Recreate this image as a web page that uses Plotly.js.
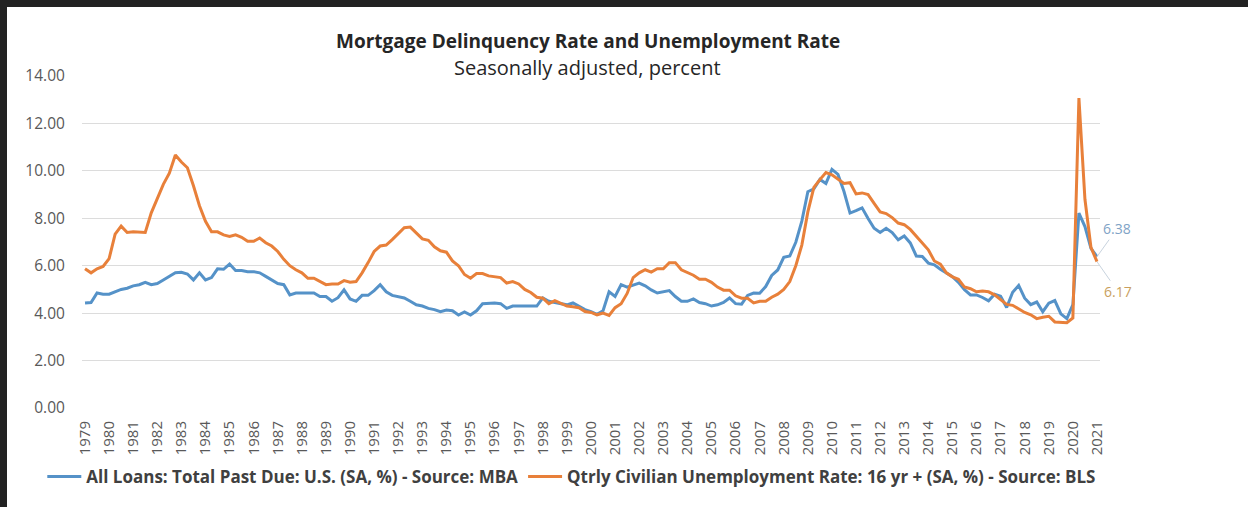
<!DOCTYPE html>
<html>
<head>
<meta charset="utf-8">
<script src="https://cdn.plot.ly/plotly-3.0.1.min.js"></script>
<style>
  html, body { margin: 0; padding: 0; background: #222222; width: 1248px; height: 507px; overflow: hidden; }
  #chart { position: absolute; left: 7px; top: 7px; width: 1241px; height: 500px; background: #ffffff; }
</style>
</head>
<body>
<div id="chart"></div>
<script>
// Years shown on the category axis (one tick per Q1)
const years = [1979,1980,1981,1982,1983,1984,1985,1986,1987,1988,1989,1990,1991,1992,1993,1994,1995,1996,1997,1998,1999,2000,2001,2002,2003,2004,2005,2006,2007,2008,2009,2010,2011,2012,2013,2014,2015,2016,2017,2018,2019,2020,2021];

// All Loans: Total Past Due: U.S. (SA, %) - Source: MBA  (quarterly, 1979Q1..2021Q1)
const mbaDelinquency = [
  4.43,4.45,4.85,4.80,  4.80,4.90,5.00,5.05,  5.15,5.20,5.30,5.20,  5.25,5.40,5.55,5.70,
  5.72,5.65,5.40,5.70,  5.40,5.50,5.87,5.85,  6.07,5.80,5.80,5.75,  5.75,5.70,5.55,5.40,
  5.25,5.20,4.77,4.85,  4.85,4.87,4.85,4.70,  4.70,4.50,4.65,4.98,  4.60,4.50,4.75,4.75,
  4.95,5.20,4.90,4.75,  4.70,4.64,4.50,4.35,  4.30,4.20,4.15,4.06,  4.13,4.10,3.92,4.05,
  3.92,4.10,4.40,4.43,  4.43,4.40,4.20,4.30,  4.30,4.27,4.27,4.30,  4.64,4.50,4.45,4.40,
  4.35,4.43,4.30,4.15,  4.06,3.95,4.10,4.90,  4.70,5.20,5.10,5.20,  5.27,5.15,4.98,4.85,
  4.90,4.95,4.70,4.50,  4.50,4.60,4.45,4.40,  4.30,4.35,4.45,4.64,  4.40,4.38,4.75,4.85,
  4.84,5.12,5.59,5.82,  6.35,6.41,6.99,7.88,  9.12,9.24,9.64,9.47,  10.06,9.85,9.13,8.22,
  8.32,8.44,7.99,7.58,  7.40,7.58,7.40,7.09,  7.25,6.96,6.41,6.39,  6.11,6.04,5.85,5.68,
  5.54,5.30,4.99,4.77,  4.77,4.66,4.52,4.80,  4.71,4.24,4.88,5.17,  4.63,4.36,4.47,4.06,
  4.42,4.53,3.97,3.77,  4.36,8.22,7.65,6.73,  6.38
];

// Qtrly Civilian Unemployment Rate: 16 yr + (SA, %) - Source: BLS  (quarterly, 1979Q1..2021Q1)
const unemployment = [
  5.87,5.70,5.87,5.97,  6.30,7.33,7.67,7.40,  7.43,7.40,7.40,8.23,  8.83,9.43,9.90,10.67,
  10.37,10.13,9.37,8.53, 7.87,7.43,7.43,7.30, 7.23,7.30,7.20,7.03,  7.03,7.17,6.97,6.83,
  6.60,6.27,6.00,5.83,  5.70,5.47,5.47,5.33,  5.20,5.23,5.23,5.37,  5.30,5.33,5.70,6.13,
  6.60,6.83,6.87,7.10,  7.37,7.60,7.63,7.37,  7.13,7.07,6.80,6.63,  6.57,6.20,6.00,5.63,
  5.47,5.67,5.67,5.57,  5.53,5.50,5.27,5.33,  5.23,5.00,4.87,4.67,  4.63,4.40,4.53,4.43,
  4.30,4.27,4.23,4.07,  4.03,3.93,4.00,3.90,  4.23,4.40,4.83,5.50,  5.70,5.83,5.73,5.87,
  5.87,6.13,6.13,5.83,  5.70,5.60,5.43,5.43,  5.30,5.10,4.97,4.97,  4.73,4.63,4.63,4.43,
  4.50,4.50,4.67,4.80,  5.00,5.33,6.00,6.87,  8.27,9.30,9.63,9.93,  9.83,9.63,9.47,9.50,
  9.03,9.07,9.00,8.63,  8.27,8.20,8.03,7.80,  7.73,7.53,7.23,6.93,  6.67,6.20,6.07,5.70,
  5.53,5.43,5.10,5.03,  4.90,4.93,4.90,4.77,  4.57,4.37,4.33,4.17,  4.03,3.93,3.77,3.83,
  3.87,3.63,3.63,3.60,  3.80,13.07,8.80,6.77,  6.17
];

const seriesNames = [
  "All Loans: Total Past Due: U.S. (SA, %) - Source: MBA",
  "Qtrly Civilian Unemployment Rate: 16 yr + (SA, %) - Source: BLS"
];
const yTicks = [0, 2, 4, 6, 8, 10, 12, 14];

// Quarter categories built from the year list
const quarters = [];
years.forEach(y => { for (let q = 1; q <= 4; q++) quarters.push(y + " Q" + q); });
quarters.length = mbaDelinquency.length;

const tickVals = years.map(y => y + " Q1");
const tickText = years.map(String);
const lastCat = quarters[quarters.length - 1];
const lastBlue = mbaDelinquency[mbaDelinquency.length - 1];
const lastOrange = unemployment[unemployment.length - 1];

const BLUE = "#5592c8";
const ORANGE = "#e8803a";
const FONT = "Open Sans, sans-serif";

const traces = [
  { x: quarters, y: mbaDelinquency, type: "scatter", mode: "lines", name: seriesNames[0],
    line: { color: BLUE, width: 3 } },
  { x: quarters, y: unemployment, type: "scatter", mode: "lines", name: seriesNames[1],
    line: { color: ORANGE, width: 3 } }
];

const layout = {
  width: 1241, height: 500,
  margin: { l: 75, r: 148, t: 69, b: 99 },
  paper_bgcolor: "#ffffff", plot_bgcolor: "#ffffff",
  font: { family: FONT, color: "#595959" },
  showlegend: true,
  legend: {
    orientation: "h", x: -0.039, xanchor: "left", y: -0.208, yanchor: "middle",
    font: { family: FONT, size: 17, color: "#404040", weight: "bold" },
    itemwidth: 34, tracegroupgap: 0, bgcolor: "rgba(0,0,0,0)"
  },
  xaxis: {
    type: "category", range: [-0.5, quarters.length - 0.5],
    tickvals: tickVals, ticktext: tickText, tickangle: -90,
    tickfont: { family: FONT, size: 15, color: "#595959" },
    showgrid: false, zeroline: false, showline: false,
    ticks: "outside", ticklen: 6, tickcolor: "rgba(0,0,0,0)"
  },
  yaxis: {
    range: [0, 14], tickvals: yTicks, tickformat: ".2f",
    tickfont: { family: FONT, size: 15.5, color: "#595959" },
    gridcolor: "#dcdcdc", gridwidth: 1, zeroline: false, showline: false,
    ticks: "outside", ticklen: 13, tickcolor: "rgba(0,0,0,0)"
  },
  annotations: [
    { text: "<b>Mortgage Delinquency Rate and Unemployment Rate</b>", xref: "paper", yref: "paper",
      x: 0.497, y: 1.105, xanchor: "center", yanchor: "middle", showarrow: false,
      font: { family: FONT, size: 19, color: "#262626" } },
    { text: "Seasonally adjusted, percent", xref: "paper", yref: "paper",
      x: 0.497, y: 1.027, xanchor: "center", yanchor: "middle", showarrow: false,
      font: { family: FONT, size: 20, color: "#262626" } },
    { text: lastBlue.toFixed(2), x: lastCat, y: lastBlue, xref: "x", yref: "y",
      showarrow: true, arrowhead: 0, arrowwidth: 1, arrowcolor: "#c8d3de", standoff: 0,
      ax: 20, ay: -28, font: { family: FONT, size: 14, color: "#7fa3c6" } },
    { text: lastOrange.toFixed(2), x: lastCat, y: lastOrange, xref: "x", yref: "y",
      showarrow: true, arrowhead: 0, arrowwidth: 1, arrowcolor: "#c8d3de", standoff: 0,
      ax: 21, ay: 30, font: { family: FONT, size: 14, color: "#c99f5e" } }
  ]
};

Plotly.newPlot("chart", traces, layout, { staticPlot: true, displayModeBar: false });
</script>
</body>
</html>
